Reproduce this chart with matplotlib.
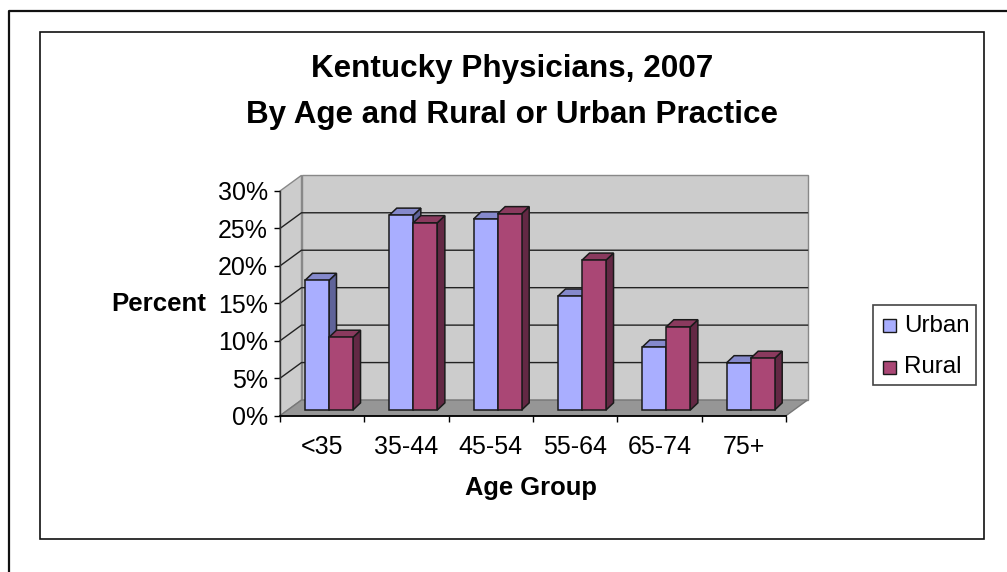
import matplotlib

matplotlib.use("Agg")

import matplotlib.pyplot as plt
from matplotlib.patches import Polygon, Rectangle

# --- Data ---
age_groups = ['<35', '35-44', '45-54', '55-64', '65-74', '75+']
urban = [17.3, 26.0, 25.5, 15.2, 8.4, 6.3]
rural = [9.7, 25.0, 26.2, 20.0, 11.1, 6.9]
y_ticks = [0, 5, 10, 15, 20, 25, 30]

# --- Colours ---
WALL = '#CCCCCC'
FLOOR = '#969696'
URBAN = ('#A9AEFF', '#8589CC', '#5F6399')
RURAL = ('#AA4775', '#8A3A5E', '#632844')

W, H = 1007, 572
plt.rcParams['font.family'] = ['Liberation Sans', 'DejaVu Sans']

fig = plt.figure(figsize=(W / 100, H / 100), dpi=100)

# full-figure pixel overlay for the frames
bg = fig.add_axes([0, 0, 1, 1])
bg.set_xlim(0, W)
bg.set_ylim(H, 0)
bg.axis('off')
bg.plot([9, 9, W], [H, 11, 11], color='#111111', lw=1.6)
bg.add_patch(Rectangle((40, 32), 943.5, 507, fill=False, ec='#111111', lw=1.2))

# Axes runs along the front edge of the floor
left, right, top, bottom = 280, 786, 191, 415.7
ax = fig.add_axes([left / W, 1 - bottom / H, (right - left) / W, (bottom - top) / H])
ax.set_xlim(0, 6)
ax.set_ylim(0, 30)
ax.patch.set_visible(False)

# oblique projection: depth 1 is the back wall
DX = 21.5 / 84.33
DY = 15.7 / 7.5


def proj(x, y, d):
    return (x + d * DX, y + d * DY)


def face(pts, **kw):
    ax.add_patch(Polygon(pts, closed=True, clip_on=False, **kw))


# --- Walls and floor ---
face([proj(0, 0, 0), proj(0, 0, 1), proj(0, 30, 1), proj(0, 30, 0)],
     fc=WALL, ec='#888888', lw=1.0, zorder=1)
face([proj(0, 0, 1), proj(6, 0, 1), proj(6, 30, 1), proj(0, 30, 1)],
     fc=WALL, ec='#888888', lw=1.0, zorder=1)
face([proj(0, 0, 0), proj(6, 0, 0), proj(6, 0, 1), proj(0, 0, 1)],
     fc=FLOOR, ec='#777777', lw=1.0, zorder=1)

# --- Gridlines ---
for t in y_ticks[1:-1]:
    xs, ys = zip(proj(0, t, 0), proj(0, t, 1), proj(6, t, 1))
    ax.plot(xs, ys, color='#222222', lw=1.0, zorder=2, clip_on=False)

# --- Bars ---
BAR_W = 0.285
GAP = (1 - 2 * BAR_W) / 2 - 0.012
D0 = 0.36
# bars get their own depth offsets, they are a bit steeper than the floor
BAR_DX = 7.6 / 84.33
BAR_DY = 7.2 / 7.5


def draw_bar(x, v, colors, z):
    front, upper, side = colors
    style = dict(ec='#1A1A1A', lw=1.1, joinstyle='miter', zorder=z)
    x1 = x + BAR_W
    fl, fr = proj(x, 0, D0), proj(x1, 0, D0)
    tl, tr = proj(x, v, D0), proj(x1, v, D0)
    face([fr, (fr[0] + BAR_DX, fr[1] + BAR_DY), (tr[0] + BAR_DX, tr[1] + BAR_DY), tr],
         fc=side, **style)
    face([tl, tr, (tr[0] + BAR_DX, tr[1] + BAR_DY), (tl[0] + BAR_DX, tl[1] + BAR_DY)],
         fc=upper, **style)
    face([fl, fr, tr, tl], fc=front, **style)


for i in range(len(age_groups)):
    x = i + GAP
    draw_bar(x, urban[i], URBAN, 3 + i)
    draw_bar(x + BAR_W, rural[i], RURAL, 3.5 + i)

# --- Axes styling ---
for s in ['top', 'right']:
    ax.spines[s].set_visible(False)
ax.spines['left'].set_linewidth(1.0)
ax.spines['left'].set_color('#333333')
ax.spines['bottom'].set_linewidth(1.3)
ax.set_yticks(y_ticks)
ax.set_yticklabels([f'{t}%' for t in y_ticks])
ax.set_xticks(range(7))
ax.set_xticklabels([])
ax.set_xticks([i + 0.5 for i in range(6)], age_groups, minor=True)
ax.tick_params(axis='x', which='minor', length=0, labelsize=18, pad=14)
ax.tick_params(axis='x', which='major', length=4, width=1, direction='out')
ax.tick_params(axis='y', length=4.3, width=1, labelsize=18, pad=4.5)

bg.text(159, 304, 'Percent', fontsize=18.6, fontweight='bold', ha='center', va='center')
bg.text(531, 488, 'Age Group', fontsize=18.4, fontweight='bold', ha='center', va='center')
bg.text(512, 69, 'Kentucky Physicians, 2007', fontsize=22.6, fontweight='bold', ha='center', va='center')
bg.text(512, 115, 'By Age and Rural or Urban Practice', fontsize=22.6, fontweight='bold', ha='center', va='center')

# --- Legend ---
bg.add_patch(Rectangle((873, 304.5), 103, 80.5, fc='white', ec='#444444', lw=1.2))
for yc, name, col in [(325.5, 'Urban', URBAN[0]), (367, 'Rural', RURAL[0])]:
    bg.add_patch(Rectangle((882.5, yc - 6.5), 13, 13, fc=col, ec='#1A1A1A', lw=1.0))
    bg.text(904, yc, name, fontsize=17.4, ha='left', va='center')

plt.savefig('out.png', dpi=100)
